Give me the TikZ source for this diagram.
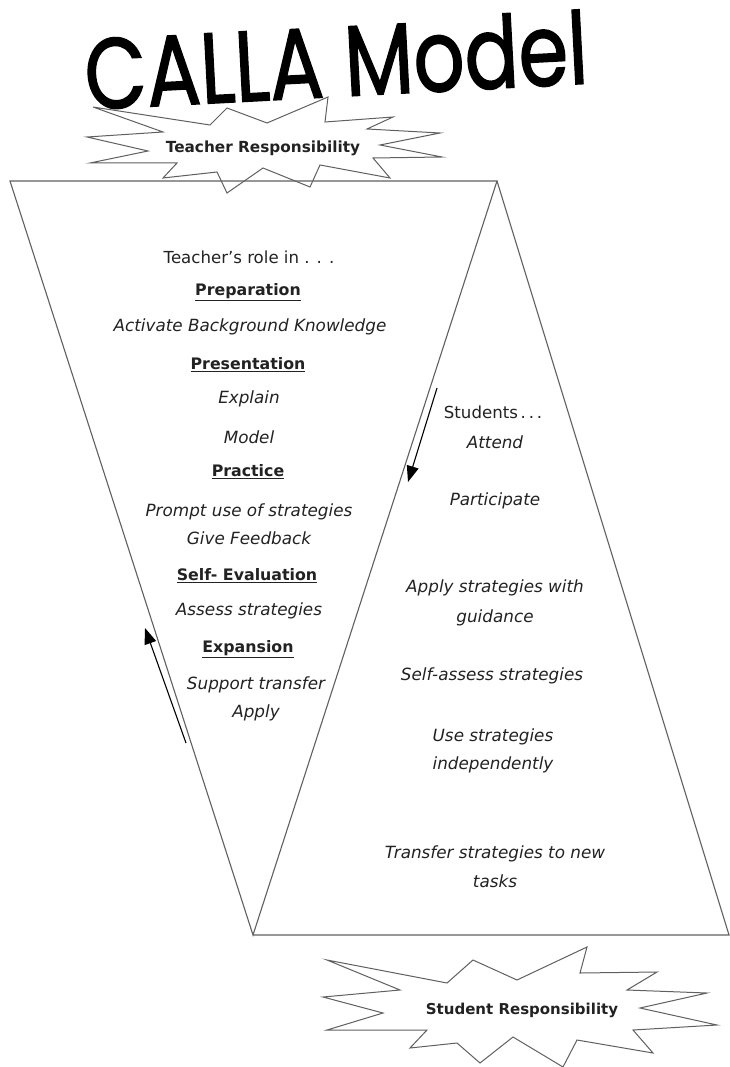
\documentclass[tikz,border=0pt]{standalone}
\usepackage{fontspec}
\setmainfont{DejaVu Sans}
\newfontfamily\titlefont[FakeBold=1.6]{Poppins}
\usetikzlibrary{arrows.meta}
\definecolor{ink}{HTML}{222222}
\definecolor{edge}{HTML}{606060}
\begin{document}
\begin{tikzpicture}[x=1pt,y=-1pt,
  frame/.style={draw=edge,line width=1.1pt,line join=miter},
  burst/.style={draw=edge,line width=1pt,line join=miter},
  plain/.style={text=ink,font=\fontsize{16.6}{17}\selectfont,inner sep=0pt,align=center},
  head/.style={text=ink,font=\fontsize{15.8}{17}\selectfont\bfseries,inner sep=0pt},
  item/.style={text=ink,font=\fontsize{16.8}{28}\selectfont\itshape,inner sep=0pt,align=center},
  flow/.style={draw=black,line width=1.1pt,-{Triangle[length=16pt,width=12pt]}}]
\useasboundingbox (0,0) rectangle (730,1067);
\fill[white] (0,0) rectangle (730,1067);

% title
\node[text=black,font=\titlefont\fontsize{100}{100}\selectfont,rotate=3,xscale=0.8,inner sep=0pt] (title) at (336,60) {CALLA Model};

% the two triangles
\coordinate (tl) at (10,181);
\coordinate (apex) at (497,181);
\coordinate (bl) at (253,935);
\coordinate (br) at (729,935);
\draw[frame] (tl) -- (apex) -- (bl) -- cycle;
\draw[frame] (apex) -- (br) -- (bl);

% starburst behind the upper label
\draw[burst] (93,107) -- (210,125) -- (227,108) -- (267,123) -- (328,97) -- (325,122)
  -- (393,117) -- (367,129) -- (440,133) -- (380,145) -- (442,157) -- (373,158)
  -- (390,178) -- (320,165) -- (310,187) -- (263,168) -- (227,193) -- (217,172)
  -- (163,178) -- (177,163) -- (90,163) -- (148,151) -- (87,137) -- (163,132) -- cycle;
\node[head,font=\fontsize{15.3}{17}\selectfont\bfseries] (teacher) at (263,148) {Teacher Responsibility};

% starburst behind the lower label
\draw[burst] (327,960) -- (447,983) -- (473,960) -- (517,980) -- (587,947) -- (580,973)
  -- (657,972) -- (627,990) -- (707,993) -- (640,1008) -- (717,1025) -- (633,1030)
  -- (653,1053) -- (577,1040) -- (563,1067) -- (513,1037) -- (480,1063) -- (457,1043)
  -- (410,1048) -- (427,1030) -- (327,1030) -- (383,1013) -- (323,997) -- (400,990) -- cycle;
\node[head,font=\fontsize{15}{17}\selectfont\bfseries] (student) at (522,1010) {Student Responsibility};

% teacher's side
\node[plain] (role) at (249,257) {Teacher’s role in . . .};
\node[head] (prep) at (248,292) {\underline{Preparation}};
\node[item] (activate) at (250,327) {Activate Background Knowledge};
\node[head] (pres) at (248,365) {\underline{Presentation}};
\node[item] (explain) at (249,399) {Explain};
\node[item] (model) at (249,437) {Model};
\node[head] (prac) at (248,472) {\underline{Practice}};
\node[item] (prompt) at (249,524) {Prompt use of strategies\\Give Feedback};
\node[head] (self) at (247,576) {\underline{Self- Evaluation}};
\node[item] (assess) at (249,611) {Assess strategies};
\node[head] (expan) at (248,649) {\underline{Expansion}};
\node[item] (support) at (256,699) {Support transfer\\Apply};

% students' side
\node[plain] (students) at (493,412) {Students\,.\,.\,.};
\node[item] (attend) at (495,442) {Attend};
\node[item] (particip) at (495,501) {Participate};
\node[item,font=\fontsize{16.8}{30}\selectfont\itshape] (guid) at (495,603) {Apply strategies with\\guidance};
\node[item] (selfas) at (492,676) {Self-assess strategies};
\node[item] (indep) at (493,751) {Use strategies\\independently};
\node[item,font=\fontsize{16.8}{29}\selectfont\itshape] (transf) at (495,867) {Transfer strategies to new\\tasks};

% direction arrows
\coordinate (downA) at (437,388);
\coordinate (downB) at (408,482);
\coordinate (upA) at (186,743);
\coordinate (upB) at (145,628);
\draw[flow] (downA) -- (downB);
\draw[flow] (upA) -- (upB);
\end{tikzpicture}
\end{document}
